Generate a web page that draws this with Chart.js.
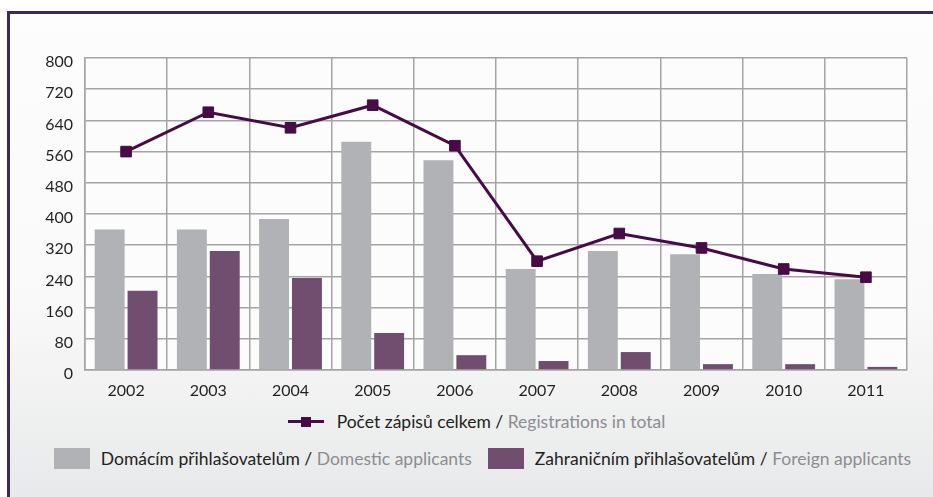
<!DOCTYPE html>
<html>
<head>
<meta charset="utf-8">
<script src="https://cdn.jsdelivr.net/npm/chart.js@4"></script>
<style>
  html, body { margin: 0; padding: 0; background: #ffffff; }
  #page { position: relative; width: 933px; height: 497px; overflow: hidden; font-family: Lato, "Open Sans", sans-serif; }
  #frame {
    position: absolute; left: 7px; top: 11px; right: 0; bottom: 0;
    border-top: 3px solid #3c2a5c; border-left: 3px solid #3c2a5c;
    background: linear-gradient(#fdfdfd 0%, #f9f9f9 60%, #e8e9ea 100%);
  }
  #chartBox { position: absolute; left: 0; top: 0; width: 933px; height: 400px; }
  .legend-row { position: absolute; width: 933px; display: flex; justify-content: center; align-items: center; white-space: nowrap; color: #231f20; }
  .legend-row .item { display: flex; align-items: center; }
  .legend-row .grey { color: #8c8d90; white-space: pre; }
  .swatch { display: inline-block; width: 36px; height: 21px; margin-right: 11px; }
  .lineSwatch { position: relative; width: 36px; height: 12px; margin-right: 13px; }
  .lineSwatch span { position: absolute; left: 0; right: 0; top: 4px; height: 3px; }
  .lineSwatch i { position: absolute; left: 13px; top: 1px; width: 10px; height: 10px; }
</style>
</head>
<body>
<div id="page">
  <div id="frame"></div>
  <div id="chartBox"><canvas id="chart"></canvas></div>
  <div class="legend-row" id="legendTop" style="top: 411px; left: 10px; font-size: 17.5px;"></div>
  <div class="legend-row" id="legendBottom" style="top: 448px; left: 16px; font-size: 17.5px;"></div>
</div>
<script>
// Data
const years = ['2002', '2003', '2004', '2005', '2006', '2007', '2008', '2009', '2010', '2011'];
const domestic = [360, 360, 387, 585, 538, 259, 305, 297, 246, 233];
const foreign = [203, 305, 236, 95, 38, 23, 46, 15, 15, 8];
const total = [560, 661, 621, 679, 575, 279, 350, 313, 259, 238];

// Legend labels: Czech part / English part
const totalLabel = ['Počet zápisů celkem', 'Registrations in total'];
const domesticLabel = ['Domácím přihlašovatelům', 'Domestic applicants'];
const foreignLabel = ['Zahraničním přihlašovatelům', 'Foreign applicants'];

const lineColor = '#470b45';
const greyColor = '#b1b2b5';
const purpleColor = '#714e6f';
const gridColor = '#a4a4a4';

// Fill the plot area white-ish before drawing
const plotBackground = {
    id: 'plotBackground',
    beforeDraw(chart) {
        const { ctx, chartArea } = chart;
        ctx.save();
        ctx.fillStyle = '#fcfcfc';
        ctx.fillRect(chartArea.left, chartArea.top, chartArea.right - chartArea.left, chartArea.bottom - chartArea.top);
        ctx.restore();
    }
};

const ctx = document.getElementById('chart').getContext('2d');
const chart = new Chart(ctx, {
    type: 'bar',
    data: {
        labels: years,
        datasets: [
            {
                type: 'line',
                label: totalLabel.join(' / '),
                data: total,
                borderColor: lineColor,
                backgroundColor: lineColor,
                borderWidth: 3,
                pointStyle: 'rect',
                pointRadius: 7.5,
                pointHoverRadius: 7.5,
                pointBorderWidth: 1,
                tension: 0,
                order: 0
            },
            {
                label: domesticLabel.join(' / '),
                data: domestic,
                backgroundColor: greyColor,
                categoryPercentage: 0.8,
                barPercentage: 0.91,
                order: 1
            },
            {
                label: foreignLabel.join(' / '),
                data: foreign,
                backgroundColor: purpleColor,
                categoryPercentage: 0.8,
                barPercentage: 0.91,
                order: 1
            }
        ]
    },
    options: {
        responsive: true,
        maintainAspectRatio: false,
        animation: false,
        layout: { padding: { top: 58, right: 26, bottom: 0, left: 0 } },
        plugins: {
            legend: { display: false },
            tooltip: { enabled: false }
        },
        scales: {
            x: {
                grid: { color: gridColor, lineWidth: 1.5, drawTicks: false, offset: true },
                border: { color: gridColor, width: 1.5 },
                ticks: { color: '#231f20', font: { family: 'Lato', size: 16 }, padding: 11 },
                afterFit(scale) { scale.height = 30; }
            },
            y: {
                min: 0,
                max: 800,
                grid: { color: gridColor, lineWidth: 1.5, drawTicks: false },
                border: { color: gridColor, width: 1.5 },
                ticks: {
                    stepSize: 40,
                    color: '#231f20',
                    font: { family: 'Lato', size: 16 },
                    padding: 12,
                    labelOffset: 4,
                    callback: (v) => (v % 80 === 0 ? String(v) : '')
                },
                afterFit(scale) { scale.width = 85; }
            }
        }
    },
    plugins: [plotBackground]
});

// HTML legend with two-tone labels
function legendText(parts) {
    return '<span>' + parts[0] + ' /</span><span class="grey"> ' + parts[1] + '</span>';
}
document.getElementById('legendTop').innerHTML =
    '<div class="item"><span class="lineSwatch"><span style="background:' + lineColor + '"></span><i style="background:' + lineColor + '"></i></span>' +
    legendText(totalLabel) + '</div>';
document.getElementById('legendBottom').innerHTML =
    '<div class="item" style="margin-right:16px"><span class="swatch" style="background:' + greyColor + '"></span>' + legendText(domesticLabel) + '</div>' +
    '<div class="item"><span class="swatch" style="background:' + purpleColor + '"></span>' + legendText(foreignLabel) + '</div>';
</script>
</body>
</html>
